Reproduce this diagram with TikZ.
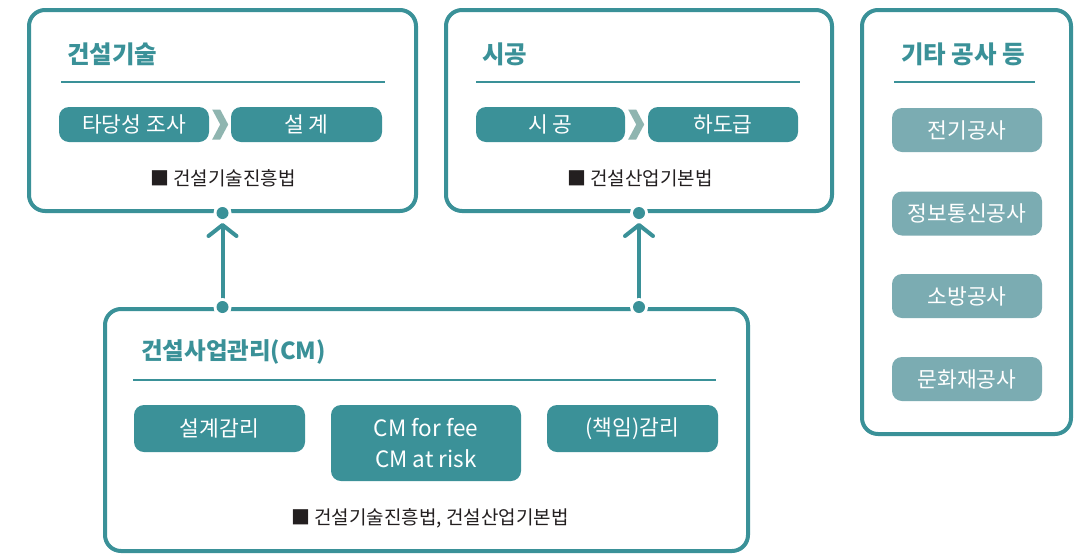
\documentclass[tikz,border=0pt]{standalone}
\usepackage{fontspec}
\setmainfont{Noto Sans CJK KR}
\usetikzlibrary{arrows.meta,calc}
\definecolor{tealb}{HTML}{3A9198}
\definecolor{tealp}{HTML}{3B9198}
\definecolor{teall}{HTML}{7BACB2}
\definecolor{chevc}{HTML}{8FB5B0}
\definecolor{lawc}{HTML}{231F20}
\tikzset{
  bigbox/.style={draw=tealb, line width=4pt, rounded corners=16pt, inner sep=0pt, fill=white},
  pill/.style={fill=tealp, rounded corners=10pt, text=white, inner sep=0pt, align=center,
    font=\fontsize{21.5}{31}\selectfont},
  lpill/.style={pill, fill=teall},
  title/.style={text=tealb, inner sep=0pt, font=\fontsize{24.5}{28}\selectfont\bfseries},
  uline/.style={draw=tealb, line width=2pt},
  law/.style={text=lawc, inner sep=0pt, font=\fontsize{19}{22}\selectfont},
  conn/.style={draw=tealb, line width=4pt, -{Straight Barb[length=11pt,width=28pt,round]}},
  chev/.style={fill=chevc},
}
\begin{document}
\begin{tikzpicture}[x=1pt,y=-1pt]
\useasboundingbox (0,0) rectangle (1084,555);
% big boxes
\node[bigbox, minimum width=387pt, minimum height=201pt] (b1) at (222.5,110.5) {};
\node[bigbox, minimum width=386pt, minimum height=201pt] (b2) at (639,110.5) {};
\node[bigbox, minimum width=209pt, minimum height=424pt] (b3) at (966.5,222) {};
\node[bigbox, minimum width=643pt, minimum height=242pt] (b4) at (426.5,430) {};
% titles
\node[title, anchor=west] (t1) at (67,54) {건설기술};
\node[title, anchor=west] (t2) at (482,54) {시공};
\node[title] (t3) at (963,54) {기타 공사 등};
\node[title, anchor=west, font=\fontsize{23.5}{28}\selectfont\bfseries] (t4) at (141,352) {건설사업관리(CM)};
\draw[uline] (61,82) -- (385,82);
\draw[uline] (476,82) -- (800,82);
\draw[uline] (894,82) -- (1035,82);
\draw[uline] (133,380) -- (716,380);
% box 1 pills
\node[pill, minimum width=150pt, minimum height=35pt] (p11) at (134,124.5) {타당성 조사};
\node[pill, minimum width=151pt, minimum height=35pt] (p12) at (306.5,124.5) {설 계};
\fill[chev] ($(p11.east)+(3,-15)$) -- ++(8,0) -- ++(8,15) -- ++(-8,15) -- ++(-8,0) -- ++(8,-15) -- cycle;
\node[law] (l1) at (223,178) {■ 건설기술진흥법};
% box 2 pills
\node[pill, minimum width=149pt, minimum height=35pt] (p21) at (550.5,124.5) {시 공};
\node[pill, minimum width=150pt, minimum height=35pt] (p22) at (723,124.5) {하도급};
\fill[chev] ($(p21.east)+(3,-15)$) -- ++(8,0) -- ++(8,15) -- ++(-8,15) -- ++(-8,0) -- ++(8,-15) -- cycle;
\node[law] (l2) at (640,178) {■ 건설산업기본법};
% box 3 pills
\node[lpill, minimum width=150pt, minimum height=44pt] (p31) at (967,130) {전기공사};
\node[lpill, minimum width=150pt, minimum height=44pt] (p32) at (967,213.5) {정보통신공사};
\node[lpill, minimum width=150pt, minimum height=44pt] (p33) at (967,296) {소방공사};
\node[lpill, minimum width=150pt, minimum height=44pt] (p34) at (967,379) {문화재공사};
% box 4 pills
\node[pill, minimum width=171pt, minimum height=47pt] (q1) at (219.5,428.5) {설계감리};
\node[pill, minimum width=190pt, minimum height=76pt, font=\fontsize{22.5}{31}\selectfont] (q2) at (426,443) {CM for fee\\CM at risk};
\node[pill, minimum width=171pt, minimum height=47pt] (q3) at (632.5,428.5) {(책임)감리};
\node[law] (l4) at (430,518) {■ 건설기술진흥법, 건설산업기본법};
% connectors
\draw[conn] (b4.north -| b1.south) -- ([yshift=-10pt]b1.south);
\draw[conn] (b4.north -| b2.south) -- ([yshift=-10pt]b2.south);
\foreach \p in {b1.south, b2.south, b4.north -| b1.south, b4.north -| b2.south}{
  \fill[white] (\p) circle (9);
  \fill[tealb] (\p) circle (6);
}
\end{tikzpicture}
\end{document}
